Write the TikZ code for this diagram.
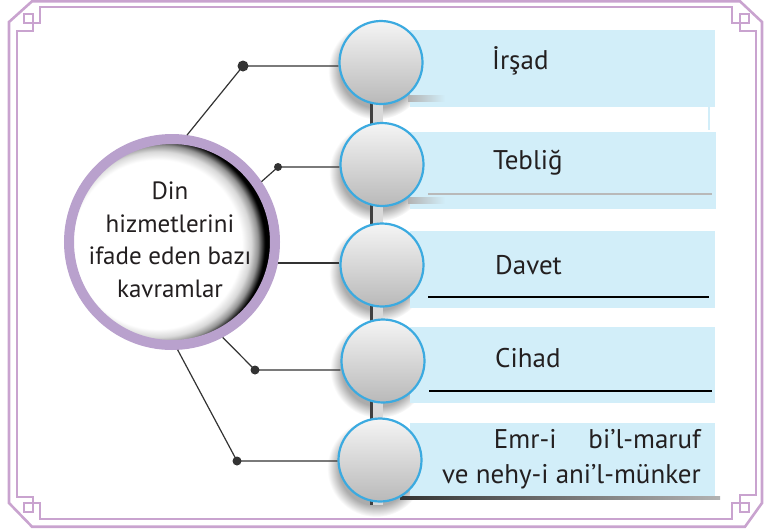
\documentclass[tikz,border=0pt]{standalone}
\usepackage{fontspec}
\setmainfont{PT Sans}
\usetikzlibrary{calc}
\definecolor{framec}{HTML}{C9A3CF}
\definecolor{ringc}{HTML}{B9A1CD}
\definecolor{bluec}{HTML}{3BAAE0}
\definecolor{boxc}{HTML}{D2EEF9}
\definecolor{txtc}{HTML}{231F20}
\definecolor{linec}{HTML}{333333}
\pgfdeclareradialshading{innershadow}{\pgfpoint{-6bp}{-1bp}}{color(0bp)=(white); color(20.5bp)=(white); color(22.5bp)=(gray!30); color(24bp)=(gray!85); color(25.5bp)=(black); color(50bp)=(black)}
\pgfdeclareradialshading{circshadow}{\pgfpoint{0bp}{0bp}}{color(0bp)=(gray!75); color(19bp)=(gray!65); color(25bp)=(white); color(50bp)=(white)}
\begin{document}
\begin{tikzpicture}[x=1pt,y=-1pt,
  conn/.style={draw=linec, line width=1.2pt},
  dotn/.style={circle, fill=linec, inner sep=0pt},
  gcirc/.style={circle, draw=bluec, line width=2.2pt, minimum size=83pt, inner sep=0pt, top color=gray!8, bottom color=gray!55},
  lbl/.style={text=txtc, font=\fontsize{27}{35}\selectfont, inner sep=0pt},
  mainlbl/.style={text=txtc, font=\fontsize{25}{32.5}\selectfont, inner sep=0pt},
  framepath/.style={draw=framec, line width=2.6pt},
  boxfill/.style={fill=boxc},
]
\useasboundingbox (0,0) rectangle (767,528);
% frame
\draw[framepath] (32,1.3) -- (740,1.3) -- (762,22) -- (762,503) -- (745,526.7) -- (32,526.7) -- (9,503) -- (9,22) -- cycle;
\draw[framepath] (40,7) -- (732,7) -- (732,23) -- (740,23) -- (740,31) -- (756,31) -- (756,495) -- (740,495) -- (740,503) -- (732,503) -- (732,519) -- (40,519) -- (40,503) -- (33,503) -- (33,497) -- (17,497) -- (17,31) -- (33,31) -- (33,23) -- (40,23) -- cycle;
\draw[framepath] (24,14) rectangle (33,23);
\draw[framepath] (740,14) rectangle (749,23);
\draw[framepath] (740,503) rectangle (749,512);
\draw[framepath] (24,503) rectangle (33,512);
% circle centres
\coordinate (p1) at (381,62.5);
\coordinate (p2) at (382,164.5);
\coordinate (p3) at (382,265);
\coordinate (p4) at (383,361);
\coordinate (p5) at (380,460);
% shadows
\foreach \p in {p1,p2,p3,p4,p5}
  \shade[shading=circshadow] ($(\p)+(-4,8)$) circle (49pt);
% boxes
\fill[boxfill] (410,30) rectangle (715,107);
\fill[boxfill] (708,107) rectangle (710,130);
\fill[boxfill] (410,132) rectangle (716,209);
\fill[boxfill] (410,231) rectangle (715,308);
\fill[boxfill] (410,327) rectangle (715,403);
\fill[boxfill] (410,423) rectangle (715,496);
\shade[left color=gray!60, right color=boxc] (408,95) rectangle (445,101);
\shade[left color=gray!60, right color=boxc] (408,197) rectangle (445,203);
\draw[draw=gray!55, line width=2pt] (428,194) -- (712,194);
\draw[draw=black, line width=2pt] (428,297) -- (709,297);
\draw[draw=black, line width=2pt] (429,391) -- (712,391);
\shade[left color=black!80, right color=gray!60] (400,496.5) rectangle (720,499.5);
% vertical bar
\fill[gray!30] (372,95) rectangle (383,505);
\fill[black!75] (369.5,95) rectangle (372.5,505);
% grey circles
\node[gcirc] (r1) at (p1) {};
\node[gcirc] (r2) at (p2) {};
\node[gcirc] (r3) at (p3) {};
\node[gcirc] (r4) at (p4) {};
\node[gcirc] (r5) at (p5) {};
% labels
\node[lbl, anchor=west] (t1) at (492,61) {İrşad};
\node[lbl, anchor=west] (t2) at (493,163) {Tebliğ};
\node[lbl, anchor=west] (t3) at (495,265) {Davet};
\node[lbl, anchor=west] (t4) at (495,358) {Cihad};
\node[lbl, anchor=east, align=right] (t5) at (701,459) {Emr-i\hspace{32pt}bi’l-maruf\\ve nehy-i ani’l-münker};
% main circle
\node[circle, draw=ringc, line width=10pt, minimum size=206pt, inner sep=0pt, shading=innershadow] (main) at (172,242) {};
\node[mainlbl, align=center] (mt) at (170,240) {Din\\hizmetlerini\\ifade eden bazı\\kavramlar};
% connectors
\node[dotn, minimum size=11pt] (d1) at (243,66) {};
\node[dotn, minimum size=8pt] (d2) at (278,167) {};
\node[dotn, minimum size=9pt] (d4) at (255,370) {};
\node[dotn, minimum size=9pt] (d5) at (237,461) {};
\draw[conn] (main.82) -- (d1.center) -- (d1.center -| r1.west);
\draw[conn] (main.34) -- (d2.center) -- (d2.center -| r2.west);
\draw[conn, line width=2pt] (main.-11) -- (main.-11 -| r3.west);
\draw[conn] (main.-62) -- (d4.center) -- (d4.center -| r4.west);
\draw[conn] (main.-87) -- (d5.center) -- (d5.center -| r5.west);
\end{tikzpicture}
\end{document}
